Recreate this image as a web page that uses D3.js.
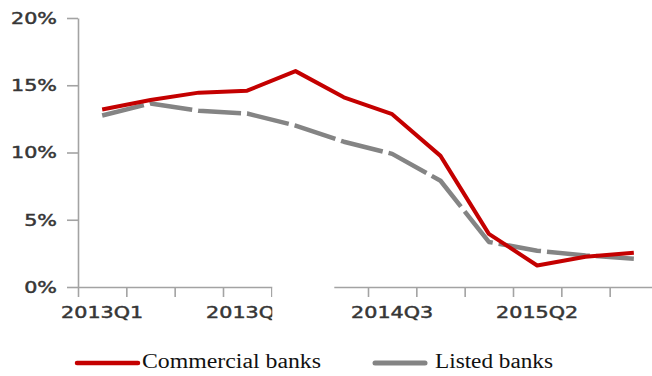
<!DOCTYPE html>
<html>
<head>
<meta charset="utf-8">
<script src="https://cdn.jsdelivr.net/npm/d3@7/dist/d3.min.js"></script>
<style>
  html, body { margin: 0; padding: 0; background: #fff; }
  svg { display: block; }
</style>
</head>
<body>
<svg id="chart" width="652" height="376"></svg>
<script>
// Quarterly growth, 2013Q1 – 2015Q4 (percent)
const quarters = [
  "2013Q1", "2013Q2", "2013Q3", "2013Q4",
  "2014Q1", "2014Q2", "2014Q3", "2014Q4",
  "2015Q1", "2015Q2", "2015Q3", "2015Q4"
];
const commercialBanks = [13.2, 13.9, 14.45, 14.6, 16.05, 14.1, 12.85, 9.75, 3.95, 1.6, 2.25, 2.55];
const listedBanks     = [12.75, 13.65, 13.1, 12.9, 12.0, 10.8, 9.9, 7.9, 3.35, 2.7, 2.35, 2.1];
const yTicks = [0, 5, 10, 15, 20];
const labeledQuarters = ["2013Q1", "2013Q4", "2014Q3", "2015Q2"];
const seriesNames = ["Commercial banks", "Listed banks"];

const svg = d3.select("#chart");
const axisColor = "#a3a3a3";
const labelColor = "#363636";
const stretch = 1.38;

const x = d3.scaleBand().domain(quarters).range([78, 658]).paddingInner(0).paddingOuter(0);
const xEdge = d3.scaleLinear().domain([0, quarters.length]).range([78, 658]);
const y = d3.scaleLinear().domain([0, 20]).range([287, 18]);
const cx = q => x(q) + x.bandwidth() / 2;

function styleLabels(sel) {
  sel.attr("transform", `scale(${stretch},1)`)
    .attr("fill", labelColor)
    .attr("stroke", labelColor)
    .attr("stroke-width", 0.45)
    .style("font-family", "'DejaVu Sans', Verdana, sans-serif")
    .style("font-size", "15px");
}

// Y axis
const yAxis = svg.append("g")
  .attr("transform", "translate(78,0)")
  .call(d3.axisLeft(y).tickValues(yTicks).tickFormat(d => d + "%").tickSizeInner(11).tickSizeOuter(0));
yAxis.selectAll("path, line").attr("stroke", axisColor).attr("stroke-width", 1.6);
yAxis.selectAll("text").attr("x", -15.2).attr("dy", "0.36em").call(styleLabels);

// X axis: tick marks sit on the boundaries between quarters
const xAxisTicks = svg.append("g")
  .attr("transform", "translate(0,287)")
  .call(d3.axisBottom(xEdge).tickValues(d3.range(0, quarters.length + 1)).tickFormat("").tickSizeInner(10).tickSizeOuter(0));
xAxisTicks.selectAll("path, line").attr("stroke", axisColor).attr("stroke-width", 1.6);

// X axis labels, every third quarter, centred on its band
const xAxisLabels = svg.append("g")
  .attr("transform", "translate(0,287)")
  .call(d3.axisBottom(x).tickValues(labeledQuarters).tickSize(0));
xAxisLabels.select(".domain").remove();
xAxisLabels.selectAll("text").attr("y", 31).attr("dy", 0).call(styleLabels);

// Break in the category axis
svg.append("rect")
  .attr("x", 272.3).attr("y", 282).attr("width", 62).attr("height", 50)
  .attr("fill", "#fff");

// Series lines
const line = d3.line().x((d, i) => cx(quarters[i])).y(d => y(d));

svg.append("path")
  .datum(listedBanks)
  .attr("d", line)
  .attr("fill", "none")
  .attr("stroke", "#848484")
  .attr("stroke-width", 4.5)
  .attr("stroke-dasharray", "43,6")
  .attr("stroke-linejoin", "round");

svg.append("path")
  .datum(commercialBanks)
  .attr("d", line)
  .attr("fill", "none")
  .attr("stroke", "#c40000")
  .attr("stroke-width", 4)
  .attr("stroke-linejoin", "round");

// Legend
const legend = [
  { name: seriesNames[0], color: "#c40000", x1: 77, x2: 138, tx: 142, len: 179, w: 4.5 },
  { name: seriesNames[1], color: "#848484", x1: 375, x2: 425, tx: 435, len: 118, w: 5 }
];
const lg = svg.append("g");
legend.forEach(d => {
  lg.append("line")
    .attr("x1", d.x1).attr("x2", d.x2).attr("y1", 363).attr("y2", 363)
    .attr("stroke", d.color).attr("stroke-width", d.w).attr("stroke-linecap", "round");
  lg.append("text")
    .attr("x", d.tx).attr("y", 367.5)
    .attr("textLength", d.len).attr("lengthAdjust", "spacingAndGlyphs")
    .attr("fill", "#111")
    .style("font-family", "'Liberation Serif', 'Times New Roman', serif")
    .style("font-size", "20px")
    .text(d.name);
});
</script>
</body>
</html>
